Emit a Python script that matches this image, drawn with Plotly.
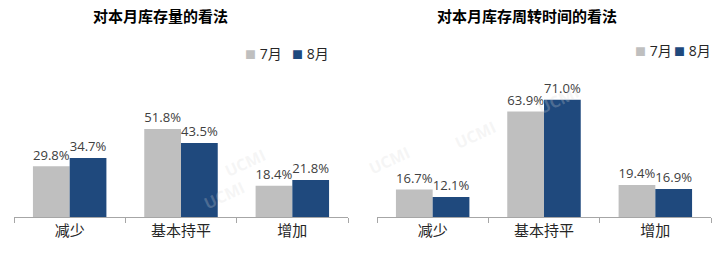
import plotly.graph_objects as go

categories = ["减少", "基本持平", "增加"]
stock_jul = [29.8, 51.8, 18.4]
stock_aug = [34.7, 43.5, 21.8]
turn_jul = [16.7, 63.9, 19.4]
turn_aug = [12.1, 71.0, 16.9]
series_names = ["7月", "8月"]
titles = ["对本月库存量的看法", "对本月库存周转时间的看法"]

GRAY = "#BFBFBF"
BLUE = "#1F497D"
FONT = "Open Sans, Noto Sans CJK SC, sans-serif"
CJK = "Noto Sans CJK SC, sans-serif"

W, H = 719, 259

def lab(v):
    return [f"{x:.1f}%" for x in v]

fig = go.Figure()
fig.add_trace(go.Bar(x=categories, y=stock_jul, name=series_names[0], marker_color=GRAY,
                     text=lab(stock_jul), textposition="outside", xaxis="x", yaxis="y"))
fig.add_trace(go.Bar(x=categories, y=stock_aug, name=series_names[1], marker_color=BLUE,
                     text=lab(stock_aug), textposition="outside", xaxis="x", yaxis="y"))
fig.add_trace(go.Bar(x=categories, y=turn_jul, name=series_names[0], marker_color=GRAY,
                     text=lab(turn_jul), textposition="outside", xaxis="x2", yaxis="y2"))
fig.add_trace(go.Bar(x=categories, y=turn_aug, name=series_names[1], marker_color=BLUE,
                     text=lab(turn_aug), textposition="outside", xaxis="x2", yaxis="y2"))

fig.update_traces(textfont=dict(size=14, color="#404040", family=FONT), cliponaxis=False,
                  marker_line_width=0, showlegend=False)

ybot = (H - 217) / H
ytop = (H - 70) / H
axis_common = dict(showline=True, linecolor="#A6A6A6", linewidth=1, ticks="outside",
                   tickson="boundaries", ticklen=5, tickcolor="#A6A6A6",
                   tickfont=dict(size=15, color="#262626", family=CJK), showgrid=False,
                   fixedrange=True)
fig.update_layout(
    width=W, height=H, margin=dict(l=0, r=0, t=0, b=0, autoexpand=False),
    paper_bgcolor="white", plot_bgcolor="white",
    barmode="group", bargap=0.34, bargroupgap=0,
    xaxis=dict(domain=[14 / W, 348 / W], anchor="y", **axis_common),
    xaxis2=dict(domain=[377 / W, 711 / W], anchor="y2", **axis_common),
    yaxis=dict(domain=[ybot, ytop], range=[0, 86.5], visible=False, anchor="x"),
    yaxis2=dict(domain=[ybot, ytop], range=[0, 89], visible=False, anchor="x2"),
    showlegend=False,
)

annotations = []
# watermarks (very faint)
for wx, wy in [(245, 185), (198, 217), (390, 160), (475, 135), (585, 100)]:
    annotations.append(dict(text="<b>UCMI</b>", x=wx / W, y=1 - wy / H, xref="paper", yref="paper",
                            showarrow=False, textangle=-25,
                            font=dict(size=16, color="rgba(215,215,215,0.25)", family=FONT)))
for cx, t in [(160, titles[0]), (527, titles[1])]:
    annotations.append(dict(text=f"<b>{t}</b>", x=cx / W, y=1 - 16 / H, xref="paper", yref="paper",
                            showarrow=False, xanchor="center", yanchor="middle",
                            font=dict(size=15, color="#000000", family=CJK)))

# legends (manual)
legend_specs = [
    [(243, 53, GRAY, series_names[0]), (290, 53, BLUE, series_names[1])],
    [(633, 50, GRAY, series_names[0]), (672, 50, BLUE, series_names[1])],
]
for group in legend_specs:
    for lx, ly, col, name in group:
        annotations.append(dict(
            text=f"<span style='color:{col};font-size:11px'>■</span> {name}",
            x=lx / W, y=1 - ly / H, xref="paper", yref="paper", showarrow=False,
            xanchor="left", yanchor="middle",
            font=dict(size=14, color="#262626", family=FONT)))
fig.update_layout(annotations=annotations)

fig.write_html("out.html")
